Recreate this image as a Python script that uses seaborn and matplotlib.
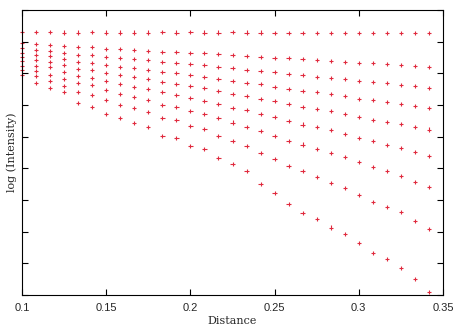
import numpy as np
import pandas as pd
import matplotlib
matplotlib.use("Agg")
import matplotlib.pyplot as plt
import seaborn as sns

# Distance values (columns of points)
distance = [round(0.1 + k / 120, 5) for k in range(30)]

# log(Intensity) readings (arbitrary units, axis spans 0..285), one list per curve
nan = np.nan
s0 = [262.7, 262.7, 262.7, 262.5, 262.5, 262.7, 262.5, 262.5, 262.5, 262.5,
      262.7, 262.5, 262.7, 262.5, 262.5, 262.7, 262.5, 262.5, 262.3, 262.3,
      262.3, 262.0, 262.0, 262.0, 261.7, 261.7, 261.7, 261.7, 261.7, 261.7]
s1 = [252.0, 250.7, 250.0, 249.0, 247.7, 247.7, 246.3, 245.7, 245.0, 244.3,
      243.3, 242.7, 241.7, 241.7, 240.7, 239.7, 239.0, 238.3, 237.3, 236.7,
      235.7, 234.7, 234.3, 233.3, 232.3, 231.7, 231.0, 230.0, 229.3, 228.0]
s2 = [246.7, 244.7, 244.0, 241.7, 240.3, 240.0, 238.3, 237.0, 235.7, 235.0,
      232.7, 232.0, 230.7, 229.7, 228.3, 226.7, 225.0, 224.0, 222.7, 221.3,
      219.7, 218.3, 217.3, 215.7, 214.0, 212.7, 211.7, 210.0, 208.7, 207.0]
s3 = [242.0, 240.0, 238.7, 236.0, 233.3, 232.3, 230.3, 228.0, 226.7, 225.0,
      223.0, 221.7, 219.7, 218.3, 216.0, 213.7, 212.3, 210.7, 208.3, 206.3,
      204.3, 202.7, 200.7, 199.0, 196.3, 194.7, 193.0, 190.7, 189.0, 186.7]
s4 = [238.0, 234.7, 233.0, 229.7, 226.0, 225.0, 222.3, 219.7, 217.7, 215.7,
      213.3, 211.3, 208.7, 207.0, 204.0, 201.0, 198.7, 196.3, 193.7, 191.0,
      188.3, 185.7, 183.7, 181.0, 177.7, 175.3, 173.3, 170.7, 168.0, 165.5]
s5 = [233.7, 229.3, 227.7, 223.0, 219.3, 217.3, 214.3, 211.3, 208.3, 205.7,
      203.0, 200.3, 196.7, 194.3, 190.7, 187.3, 184.7, 180.7, 177.7, 174.0,
      170.5, 167.7, 164.7, 161.0, 157.0, 153.7, 150.3, 146.7, 142.7, 138.7]
s6 = [229.5, 224.0, 220.3, 216.3, 211.7, 209.7, 205.3, 201.0, 197.7, 194.7,
      190.3, 188.3, 184.0, 181.0, 177.0, 172.5, 168.0, 163.7, 159.3, 154.3,
      150.5, 146.3, 141.7, 137.7, 132.7, 127.7, 123.7, 119.0, 113.3, 107.7]
s7 = [225.3, 218.7, 213.7, 209.3, 203.0, 199.7, 195.0, 190.0, 186.7, 182.7,
      176.7, 175.0, 168.7, 166.0, 159.0, 154.3, 149.0, 141.7, 136.0, 129.0,
      123.7, 118.3, 112.0, 107.3, 99.7, 93.0, 88.3, 82.7, 74.3, 66.0]
s8 = [220.0, 212.3, 206.7, 203.0, 191.7, 187.7, 180.7, 176.7, 172.0, 168.0,
      159.0, 156.7, 149.0, 145.7, 137.3, 131.0, 124.0, 110.7, 102.3, 90.7,
      82.3, 75.7, 67.5, 61.3, 52.3, 42.0, 35.7, 26.7, 15.7, 3.3]

series = [s0, s1, s2, s3, s4, s5, s6, s7, s8]
xticks = [0.1, 0.15, 0.2, 0.25, 0.3, 0.35]
xtick_labels = ["0.1", "0.15", "0.2", "0.25", "0.3", "0.35"]

rows = []
for i, s in enumerate(series):
    for d, v in zip(distance, s):
        if not np.isnan(v):
            rows.append({"Distance": d, "logI": v, "curve": f"c{i}"})
df = pd.DataFrame(rows)

sns.set_theme(style="white")
plt.rcParams["font.family"] = ["DejaVu Sans"]

fig = plt.figure(figsize=(4.58, 3.33), dpi=100)
ax = fig.add_axes([22 / 458, 38 / 333, 421 / 458, 285 / 333])

sns.scatterplot(data=df, x="Distance", y="logI", hue="curve",
                palette=["#e02a3e"] * len(series), marker="+", s=10,
                linewidth=0.8, legend=False, ax=ax, clip_on=False)

ax.set_xlim(0.1, 0.35)
ax.set_ylim(0, 285)
ax.set_xticks(xticks)
ax.set_xticklabels(xtick_labels, family="Liberation Sans", fontsize=8)
ax.set_yticks(np.linspace(0, 285, 10))
ax.set_yticklabels([])
ax.tick_params(direction="in", length=4, width=0.8, color="black",
               top=True, right=True, bottom=True, left=True, pad=6)
for sp in ax.spines.values():
    sp.set_color("black")
    sp.set_linewidth(0.8)

ax.set_xlabel("Distance", family="DejaVu Serif", fontsize=8, labelpad=2)
ax.set_ylabel("log (Intensity)", family="DejaVu Serif", fontsize=8)
ax.yaxis.set_label_coords(-0.012, 0.5)

fig.savefig("out.png", dpi=100)
